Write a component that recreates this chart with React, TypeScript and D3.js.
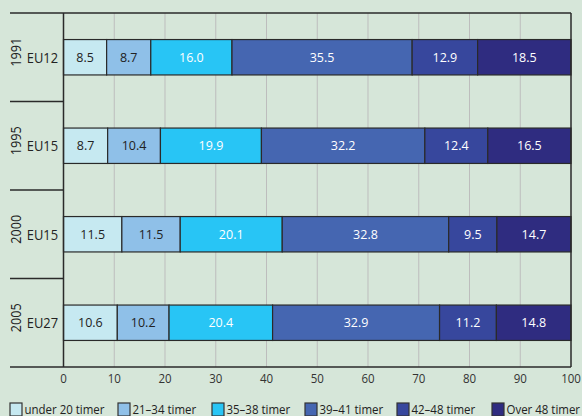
import React from "react";
import * as d3 from "d3";

const years = ["1991", "1995", "2000", "2005"];
const regions = ["EU12", "EU15", "EU15", "EU27"];
const seriesNames = ["under 20 timer", "21–34 timer", "35–38 timer", "39–41 timer", "42–48 timer", "Over 48 timer"];
const values: number[][] = [
  [8.5, 8.7, 16.0, 35.5, 12.9, 18.5],
  [8.7, 10.4, 19.9, 32.2, 12.4, 16.5],
  [11.5, 11.5, 20.1, 32.8, 9.5, 14.7],
  [10.6, 10.2, 20.4, 32.9, 11.2, 14.8],
];
const xTicks = [0, 10, 20, 30, 40, 50, 60, 70, 80, 90, 100];
const colors = ["#c6e9f1", "#8fc0e8", "#28c5f5", "#4566b1", "#37479d", "#2f2c80"];
const textColors = ["#222", "#222", "#fff", "#fff", "#fff", "#fff"];
const legendX = [10, 118, 212, 305, 397, 492];

function T({ x, y, rot = 0, sx = 1, anchor = "start", size, fill, dy, children }: any) {
  return (
    <g transform={`translate(${x},${y}) rotate(${rot}) scale(${sx},1)`}>
      <text x={0} y={0} dy={dy} textAnchor={anchor} fontSize={size} fill={fill}>
        {children}
      </text>
    </g>
  );
}

export default function App() {
  const W = 582, H = 416;
  const left = 63.5, right = 571, top = 13, bottom = 367;
  const x = d3.scaleLinear().domain([0, 100]).range([left, right]);
  const y = d3.scaleBand().domain(years).range([top, bottom]).paddingInner(0).paddingOuter(0);
  const bw = y.bandwidth();
  const barH = bw * 0.4;
  const font = "'Open Sans', 'Noto Sans', sans-serif";

  return (
    <svg width={W} height={H} style={{ position: "absolute", left: 0, top: 0, background: "#d6e6d9" }} fontFamily={font}>
      <rect x={0} y={0} width={W} height={H} fill="#d6e6d9" />
      {xTicks.slice(1, -1).map((t) => (
        <line key={t} x1={x(t)} x2={x(t)} y1={top} y2={bottom} stroke="#bdbdbd" strokeWidth={1} />
      ))}
      {years.map((yr, i) => {
        const y0 = (y(yr) as number) + (bw - barH) / 2;
        const stack = d3.cumsum(values[i]);
        const cy = (y(yr) as number) + bw / 2;
        return (
          <g key={yr}>
            {values[i].map((v, j) => {
              const s = j === 0 ? 0 : stack[j - 1];
              const x0 = x(s);
              const x1 = Math.min(x(s + v), right);
              return (
                <g key={j}>
                  <rect x={x0} y={y0} width={x1 - x0} height={barH} fill={colors[j]} stroke="#2a2a2a" strokeWidth={1.2} />
                  <T x={(x0 + x1) / 2} y={y0 + barH / 2} dy="0.36em" anchor="middle" size={12.5} fill={textColors[j]}>
                    {v.toFixed(1)}
                  </T>
                </g>
              );
            })}
            <T x={15.5} y={cy - 5} rot={-90} sx={0.9} dy="0.36em" anchor="middle" size={14} fill="#222">
              {yr}
            </T>
            <T x={58} y={cy} sx={0.86} dy="0.36em" anchor="end" size={15} fill="#222">
              {regions[i]}
            </T>
          </g>
        );
      })}
      {years.slice(1).map((yr) => (
        <line key={yr} x1={10} x2={left} y1={y(yr) as number} y2={y(yr) as number} stroke="#2a2a2a" strokeWidth={1.5} />
      ))}
      <line x1={10} x2={right} y1={top} y2={top} stroke="#2a2a2a" strokeWidth={1.5} />
      <line x1={10} x2={right} y1={bottom} y2={bottom} stroke="#2a2a2a" strokeWidth={1.5} />
      <line x1={left} x2={left} y1={top} y2={bottom} stroke="#2a2a2a" strokeWidth={1.5} />
      <line x1={right} x2={right} y1={top} y2={bottom} stroke="#2a2a2a" strokeWidth={1.5} />
      {xTicks.map((t) => (
        <T key={t} x={x(t)} y={383} sx={0.92} anchor="middle" size={12.5} fill="#333">
          {t}
        </T>
      ))}
      {seriesNames.map((n, j) => (
        <g key={n}>
          <rect x={legendX[j]} y={403} width={12} height={13} fill={colors[j]} stroke="#333" strokeWidth={1.2} />
          <T x={legendX[j] + 14.5} y={414} sx={0.85} size={13.5} fill="#222">
            {n}
          </T>
        </g>
      ))}
    </svg>
  );
}
